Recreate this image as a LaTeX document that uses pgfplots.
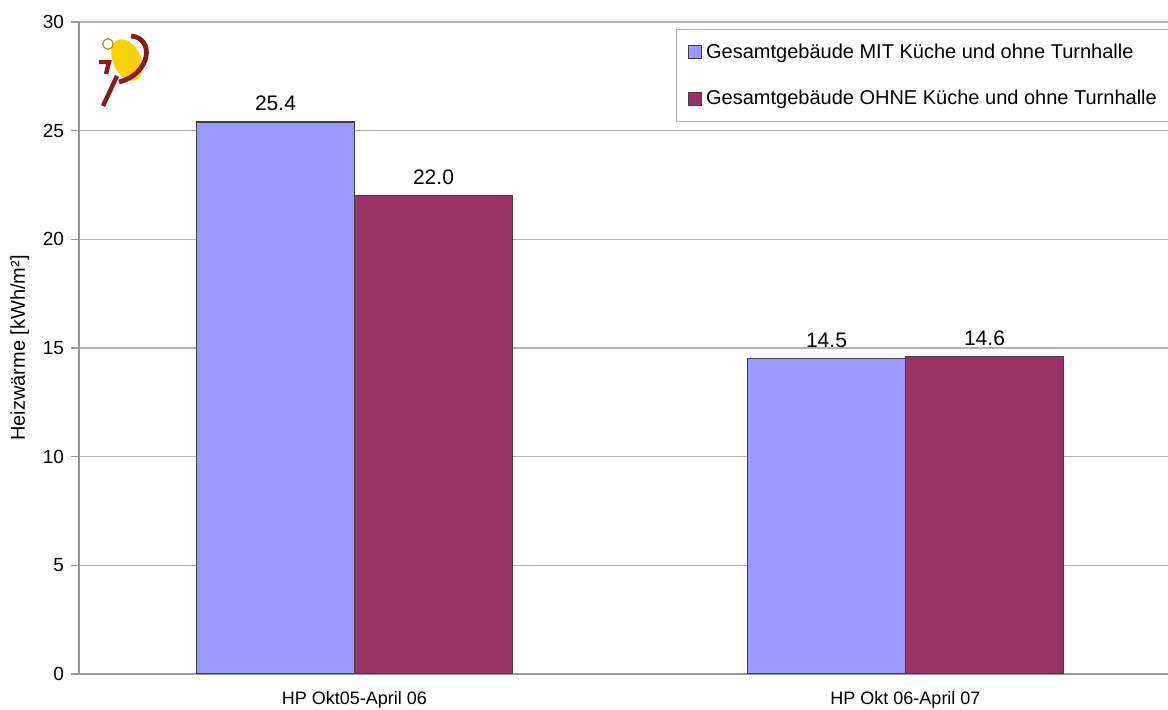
\documentclass[border=0pt]{standalone}
\usepackage{pgfplots}
\pgfplotsset{compat=1.18}
\usepackage{fontspec}
\setmainfont{Liberation Sans}
\definecolor{barA}{HTML}{9999FF}
\definecolor{barB}{HTML}{993366}
\definecolor{gridc}{HTML}{B4B4B4}
\definecolor{logored}{HTML}{8B1A1A}
\definecolor{logoyel}{HTML}{F5D20A}
\begin{document}
\begin{tikzpicture}
\path[use as bounding box] (-39.5pt,-18pt) rectangle (544.5pt,337pt);
\begin{axis}[
  scale only axis, width=551pt, height=326pt,
  xmin=-0.5, xmax=1.5, ymin=0, ymax=30,
  ytick={0,5,...,30},
  ymajorgrids, grid style={gridc, line width=0.8pt},
  axis x line*=bottom, axis y line*=left,
  axis line style={gray!80, line width=0.8pt},
  xtick={0,1},
  xticklabels={HP Okt05-April 06, HP Okt 06-April 07},
  xtick style={draw=none},
  extra x ticks={0.5}, extra x tick labels={},
  extra x tick style={tick style={draw=gray!80, line width=0.6pt}, major tick length=5pt, tick align=outside, grid=none},
  ytick style={draw=gray!80, line width=0.6pt},
  major tick length=4pt, tick align=outside,
  tick label style={font=\fontsize{9.5}{11}\selectfont},
  /pgf/number format/assume math mode=true,
  xticklabel style={yshift=-1pt, font=\fontsize{9}{11}\selectfont},
  ylabel={Heizwärme [kWh/m²]},
  ylabel style={font=\fontsize{10}{12}\selectfont, yshift=0pt},
  ybar=0pt, bar width=79pt,
  nodes near coords,
  nodes near coords style={font=\fontsize{10.5}{12}\selectfont, /pgf/number format/fixed, /pgf/number format/fixed zerofill, /pgf/number format/precision=1, /pgf/number format/assume math mode=true, yshift=2pt},
  legend style={at={(rel axis cs:0.5417,0.989)}, anchor=north west, draw=gridc,
    font=\fontsize{10}{12}\selectfont, row sep=10.5pt, inner ysep=5pt, inner xsep=6pt,
    /tikz/every even column/.append style={column sep=1pt}},
  legend cell align=left,
  legend image code/.code={\draw[#1, draw=black!75, line width=0.5pt] (0pt,-3.2pt) rectangle (6.4pt,3.2pt);},
]
\addplot[fill=barA, draw=black!75, line width=0.6pt] coordinates {(0,25.4) (1,14.5)};
\addplot[fill=barB, draw=black!75, line width=0.6pt] coordinates {(0,22.0) (1,14.6)};
\legend{Gesamtgebäude MIT Küche und ohne Turnhalle, Gesamtgebäude OHNE Küche und ohne Turnhalle}
\end{axis}
% decorative logo (top left)
\fill[logoyel, rotate around={25:(24pt,307pt)}] (24pt,307pt) ellipse (7pt and 11pt);
\draw[logored, line width=2.4pt] (26pt,319pt) .. controls (38pt,318pt) and (36pt,300pt) .. (20pt,296pt);
\draw[logored, line width=2.2pt] (19pt,299pt) -- (12pt,284pt);
\draw[logored, line width=2.2pt] (10pt,306pt) -- (15pt,306pt) -- (13.5pt,300pt);
\draw[logoyel!70!black, line width=0.6pt, fill=white] (14.5pt,315pt) circle (2.6pt);
\end{tikzpicture}
\end{document}
